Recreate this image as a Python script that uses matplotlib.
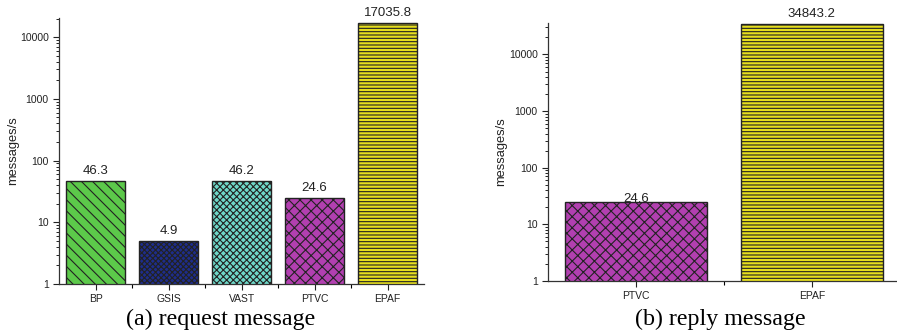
import matplotlib
matplotlib.use("Agg")
import matplotlib.pyplot as plt

# request message throughput (a)
req_names = ["BP", "GSIS", "VAST", "PTVC", "EPAF"]
req_values = [46.3, 4.9, 46.2, 24.6, 17035.8]
req_labels = ["46.3", "4.9", "46.2", "24.6", "17035.8"]
req_colors = ["#5cc94a", "#1e2d8c", "#6fd8c9", "#b23fb0", "#e6df1e"]
req_hatches = ["\\\\\\", "xxxxxx", "xxxxx", "xxx", "-----"]

# reply message throughput (b)
rep_names = ["PTVC", "EPAF"]
rep_values = [24.6, 34843.2]
rep_labels = ["24.6", "34843.2"]
rep_colors = ["#b23fb0", "#e6df1e"]
rep_hatches = ["xxx", "-----"]

plt.rcParams["hatch.linewidth"] = 0.8
plt.rcParams["font.family"] = ["Liberation Sans", "DejaVu Sans"]

fig = plt.figure(figsize=(8.97, 3.34), dpi=100)
ax1 = fig.add_axes([0.0658, 0.1497, 0.4069, 0.7963])
ax2 = fig.add_axes([0.611, 0.1587, 0.392, 0.7726])


def draw_panel(ax, names, values, labels, colors, hatches, ytop, pads):
    x = list(range(len(names)))
    bars = ax.bar(x, values, width=0.81, color=colors, edgecolor="#222222",
                  linewidth=1.0, hatch=hatches)
    for b, lab, pad in zip(bars, labels, pads):
        ax.annotate(lab, (b.get_x() + b.get_width() / 2, b.get_height()),
                    xytext=(0, pad), textcoords="offset points",
                    ha="center", va="bottom", fontsize=9.5, color="#222222",
                    annotation_clip=False)
    ax.set_yscale("log")
    ax.set_ylim(1, ytop)
    ax.set_xlim(-0.5, len(names) - 0.5)
    ax.set_yticks([1, 10, 100, 1000, 10000])
    ax.set_yticklabels(["1", "10", "100", "1000", "10000"])
    ax.set_xticks(x)
    ax.set_xticklabels(names)
    ax.set_xticks([i + 0.5 for i in x[:-1]], minor=True)
    ax.tick_params(axis="both", labelsize=7.5, colors="#222222", direction="out")
    ax.tick_params(axis="x", which="major", length=4, width=0.8)
    ax.tick_params(axis="x", which="minor", length=3, width=0.8)
    ax.tick_params(axis="y", which="major", length=4, width=0.8)
    ax.tick_params(axis="y", which="minor", length=2, width=0.6)
    for s in ["top", "right"]:
        ax.spines[s].set_visible(False)
    for s in ["left", "bottom"]:
        ax.spines[s].set_linewidth(0.9)
        ax.spines[s].set_color("#333333")
    ax.set_ylabel("messages/s", fontsize=9.3, color="#222222")


draw_panel(ax1, req_names, req_values, req_labels, req_colors, req_hatches, 20400,
           [3, 3, 3, 3, 3])
draw_panel(ax2, rep_names, rep_values, rep_labels, rep_colors, rep_hatches, 36000,
           [-2, 3])
ax1.yaxis.set_label_coords(-0.11, 0.5)
ax2.yaxis.set_label_coords(-0.115, 0.5)

fig.text(0.246, 0.012, "(a) request message", fontsize=17.3,
         family=["Liberation Serif", "DejaVu Serif"], ha="center", va="bottom")
fig.text(0.803, 0.012, "(b) reply message", fontsize=17.3,
         family=["Liberation Serif", "DejaVu Serif"], ha="center", va="bottom")

fig.savefig("out.png", dpi=100)
